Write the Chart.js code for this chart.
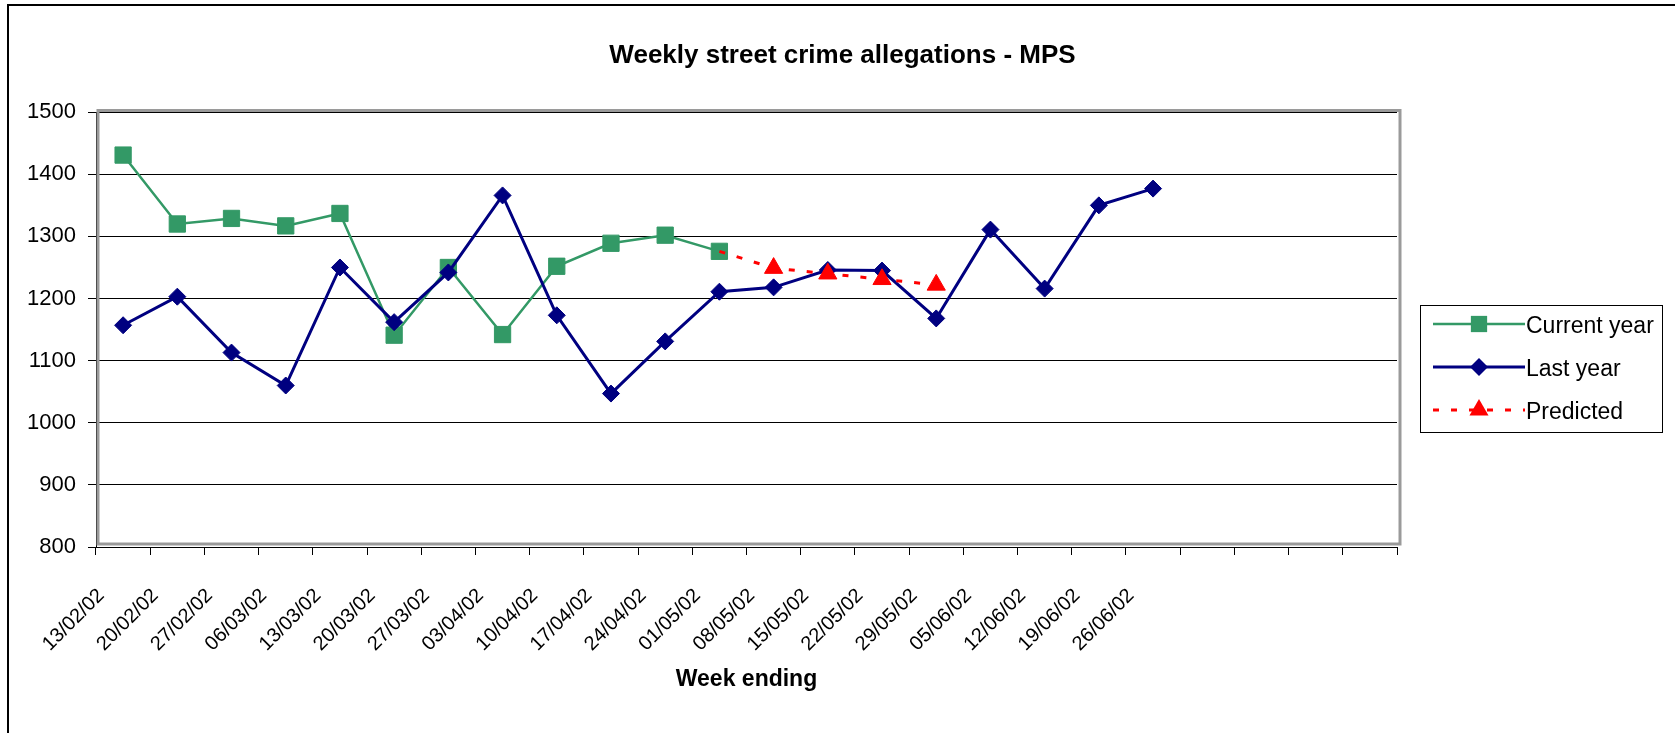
<!DOCTYPE html>
<html>
<head>
<meta charset="utf-8">
<title>Weekly street crime allegations - MPS</title>
<script src="https://cdn.jsdelivr.net/npm/chart.js@4/dist/chart.umd.min.js"></script>
<style>
  html, body { margin: 0; padding: 0; background: #fff; }
  #wrap { position: relative; width: 1675px; height: 733px; }
</style>
</head>
<body>
<div id="wrap"><canvas id="crime-chart"></canvas></div>
<script>
// week ending dates, the last four slots are empty on the axis
const weekLabels = [
  '13/02/02', '20/02/02', '27/02/02', '06/03/02', '13/03/02', '20/03/02',
  '27/03/02', '03/04/02', '10/04/02', '17/04/02', '24/04/02', '01/05/02',
  '08/05/02', '15/05/02', '22/05/02', '29/05/02', '05/06/02', '12/06/02',
  '19/06/02', '26/06/02', '', '', '', ''
];

const currentYear = [1431, 1320, 1329, 1317, 1337, 1141, 1250, 1142, 1252, 1289, 1302, 1276];

const lastYear = [
  1157, 1203, 1113, 1060, 1250, 1162, 1242, 1366, 1173, 1047,
  1131, 1211, 1218, 1246, 1245, 1168, 1311, 1216, 1350, 1377
];

// starts from the last actual value
const predicted = [null, null, null, null, null, null, null, null, null, null, null, 1276, 1249, 1240, 1231, 1222];

const yMin = 800;
const yMax = 1500;
const yStep = 100;

const FONT = '"Liberation Sans", Arial, sans-serif';
Chart.defaults.font.family = FONT;
Chart.defaults.color = '#000';

function drawMarker(c, style, x, y, r, color) {
  c.fillStyle = color;
  c.beginPath();
  if (style === 'rect') {
    const s = r * Math.SQRT1_2;
    c.rect(x - s, y - s, 2 * s, 2 * s);
  } else if (style === 'rectRot') {
    c.moveTo(x, y - r); c.lineTo(x + r, y); c.lineTo(x, y + r); c.lineTo(x - r, y);
  } else {
    c.moveTo(x, y - r);
    c.lineTo(x + r * Math.sin(Math.PI * 2 / 3), y + r / 2);
    c.lineTo(x - r * Math.sin(Math.PI * 2 / 3), y + r / 2);
  }
  c.closePath();
  c.fill();
}

// outer frame and grey plot border
const frame = {
  id: 'frame',
  beforeDraw(chart) {
    const c = chart.ctx;
    c.save();
    c.fillStyle = '#fff';
    c.fillRect(0, 0, chart.width, chart.height);
    c.strokeStyle = '#000';
    c.lineWidth = 2;
    c.beginPath();
    c.moveTo(8, chart.height);
    c.lineTo(8, 5);
    c.lineTo(chart.width, 5);
    c.stroke();
    c.restore();
  },
  beforeDatasetsDraw(chart) {
    const a = chart.chartArea;
    const c = chart.ctx;
    c.save();
    c.strokeStyle = '#9a9a9a';
    c.lineWidth = 3;
    c.strokeRect(a.left + 2, a.top - 1.7, a.width + 1, a.height - 1.3);
    c.restore();
  }
};

// Excel style legend: line with the marker in the middle
const sideLegend = {
  id: 'sideLegend',
  afterDraw(chart) {
    const c = chart.ctx;
    c.save();
    c.strokeStyle = '#000';
    c.lineWidth = 1;
    c.strokeRect(1420.5, 305.5, 242, 127);
    c.font = '23px ' + FONT;
    c.textBaseline = 'middle';
    chart.data.datasets.forEach((ds, i) => {
      const y = 324 + i * 43;
      c.strokeStyle = ds.borderColor;
      c.lineWidth = ds.borderWidth;
      c.setLineDash(ds.borderDash || []);
      c.beginPath();
      c.moveTo(1433, y);
      c.lineTo(1525, y);
      c.stroke();
      c.setLineDash([]);
      drawMarker(c, ds.pointStyle, 1479, y, ds.legendRadius, ds.pointBackgroundColor);
      c.fillStyle = '#000';
      c.fillText(ds.label, 1526, y + 3);
    });
    c.restore();
  }
};

let crimeChart;

function initChart() {
  const ctx = document.getElementById('crime-chart').getContext('2d');

  crimeChart = new Chart(ctx, {
    type: 'line',
    data: {
      labels: weekLabels,
      datasets: [{
        label: 'Current year',
        data: currentYear,
        borderColor: '#339966',
        backgroundColor: '#339966',
        pointBackgroundColor: '#339966',
        pointBorderColor: '#339966',
        borderWidth: 2.5,
        pointStyle: 'rect',
        pointRadius: 11.5,
        legendRadius: 11.5,
        pointBorderWidth: 1,
        tension: 0,
        order: 3
      }, {
        label: 'Last year',
        data: lastYear,
        borderColor: '#000080',
        backgroundColor: '#000080',
        pointBackgroundColor: '#000080',
        pointBorderColor: '#000080',
        borderWidth: 3,
        pointStyle: 'rectRot',
        pointRadius: 8.5,
        legendRadius: 9,
        pointBorderWidth: 1,
        tension: 0,
        order: 2
      }, {
        label: 'Predicted',
        data: predicted,
        borderColor: '#ff0000',
        backgroundColor: '#ff0000',
        pointBackgroundColor: '#ff0000',
        pointBorderColor: '#ff0000',
        borderWidth: 3,
        borderDash: [6, 12],
        pointStyle: 'triangle',
        pointRadius: c => (c.dataIndex === 11 ? 0 : 10.5),
        legendRadius: 11,
        pointBorderWidth: 1,
        tension: 0,
        order: 1
      }]
    },
    options: {
      responsive: true,
      maintainAspectRatio: false,
      animation: false,
      layout: { padding: { left: 10, right: 0, top: 0, bottom: 0 } },
      scales: {
        x: {
          offset: true,
          grid: {
            offset: true,
            drawOnChartArea: false,
            drawTicks: true,
            tickLength: 8,
            color: '#000'
          },
          border: { display: true, color: '#000', width: 1 },
          ticks: {
            autoSkip: false,
            minRotation: 45,
            maxRotation: 45,
            padding: 29,
            labelOffset: -22,
            font: { size: 20 },
            color: '#000'
          },
          title: {
            display: true,
            text: 'Week ending',
            font: { size: 23, weight: 'bold' },
            padding: { top: 0, bottom: 40 }
          },
          afterFit(scale) { scale.height = 186; }
        },
        y: {
          min: yMin,
          max: yMax,
          ticks: {
            stepSize: yStep,
            padding: 12,
            font: { size: 22 },
            color: '#000',
            callback: value => String(value)
          },
          grid: { color: '#000', tickLength: 8 },
          border: { display: true, color: '#000', width: 1 },
          afterFit(scale) { scale.width = 86; }
        },
        // empty axis that keeps room for the legend
        legendSpace: {
          type: 'linear',
          position: 'right',
          display: true,
          ticks: { display: false },
          grid: { display: false },
          border: { display: false },
          afterFit(scale) { scale.width = 278; }
        }
      },
      plugins: {
        legend: { display: false },
        tooltip: { enabled: false },
        title: {
          display: true,
          text: 'Weekly street crime allegations - MPS',
          color: '#000',
          font: { size: 26, weight: 'bold' },
          padding: { top: 40, bottom: 41 }
        }
      }
    },
    plugins: [frame, sideLegend]
  });
}

document.addEventListener('DOMContentLoaded', initChart);
</script>
</body>
</html>
